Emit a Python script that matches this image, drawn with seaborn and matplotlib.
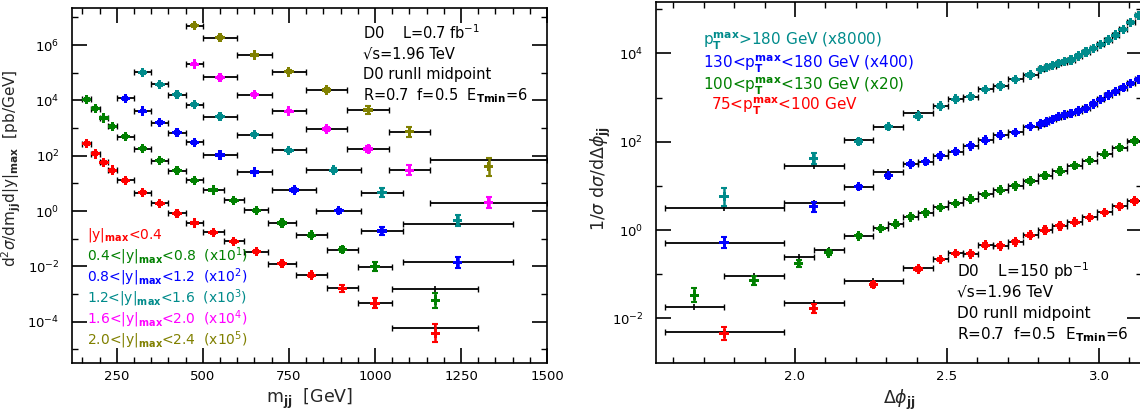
import numpy as np
import pandas as pd
import matplotlib
matplotlib.use("Agg")
import matplotlib.pyplot as plt
import matplotlib.ticker as mticker
import seaborn as sns

# ---------------- left panel: d2sigma/dmjj d|y|max in six |y|max bins ----------------
# bin edges in mjj [GeV], measured points, theory (black bars), error in decades
y04_edges = [150, 175, 200, 225, 250, 300, 350, 400, 450, 500, 560, 620, 690, 770, 860, 950, 1050, 1300]
y04_data = [271, 117, 58, 30, 12.9, 4.6, 1.9, 0.83, 0.37, 0.17, 0.081, 0.034, 0.0126, 0.0048, 0.0016, 4.6e-4, 3.8e-5]
y04_theo = [271, 117, 58, 30, 12.9, 4.6, 1.9, 0.83, 0.37, 0.17, 0.081, 0.034, 0.0126, 0.0048, 0.0016, 4.6e-4, 6.0e-5]
y04_err = [0.05, 0.05, 0.05, 0.05, 0.05, 0.05, 0.05, 0.05, 0.05, 0.05, 0.05, 0.05, 0.06, 0.08, 0.12, 0.18, 0.33]

y08_edges = [150, 175, 200, 225, 250, 300, 350, 400, 450, 500, 560, 620, 690, 770, 860, 950, 1050, 1300]
y08_data = [1090, 499, 230, 115, 48.5, 17.9, 6.6, 2.86, 1.29, 0.575, 0.245, 0.107, 0.037, 0.0135, 0.0040, 9.8e-4, 6.0e-5]
y08_theo = [1090, 499, 230, 115, 48.5, 17.9, 6.6, 2.86, 1.29, 0.575, 0.245, 0.107, 0.037, 0.0135, 0.0040, 9.8e-4, 1.5e-4]
y08_err = [0.05, 0.05, 0.05, 0.05, 0.05, 0.05, 0.05, 0.05, 0.05, 0.05, 0.05, 0.05, 0.06, 0.08, 0.1, 0.15, 0.27]

y12_edges = [250, 300, 350, 400, 450, 500, 600, 700, 830, 960, 1080, 1400]
y12_data = [119, 41, 15.6, 6.8, 3.05, 1.06, 0.257, 0.0575, 0.0102, 0.0019, 1.4e-4]
y12_theo = [119, 41, 15.6, 6.8, 3.05, 1.06, 0.257, 0.0575, 0.0102, 0.0019, 1.4e-4]
y12_err = [0.05, 0.05, 0.05, 0.05, 0.05, 0.05, 0.05, 0.06, 0.08, 0.14, 0.2]

y16_edges = [300, 350, 400, 450, 500, 600, 700, 800, 960, 1080, 1400]
y16_data = [103, 38, 16, 7.0, 2.57, 0.575, 0.158, 0.030, 0.0046, 4.5e-4]
y16_theo = [103, 38, 16, 7.0, 2.57, 0.575, 0.158, 0.030, 0.0046, 3.4e-4]
y16_err = [0.05, 0.05, 0.05, 0.05, 0.05, 0.05, 0.06, 0.08, 0.16, 0.2]

y20_edges = [450, 500, 600, 700, 800, 920, 1040, 1160, 1500]
y20_data = [20.6, 6.8, 1.6, 0.41, 0.092, 0.0174, 0.0030, 2.0e-4]
y20_theo = [20.6, 6.8, 1.6, 0.41, 0.092, 0.0174, 0.0030, 2.0e-4]
y20_err = [0.05, 0.05, 0.05, 0.05, 0.06, 0.1, 0.18, 0.2]

y24_edges = [450, 500, 600, 700, 800, 920, 1040, 1160, 1500]
y24_data = [49.9, 18.4, 4.36, 1.08, 0.237, 0.0448, 0.0074, 4.0e-4]
y24_theo = [49.9, 18.4, 4.36, 1.08, 0.237, 0.0448, 0.0074, 7.0e-4]
y24_err = [0.05, 0.05, 0.05, 0.06, 0.08, 0.15, 0.18, 0.33]

left_scales = [1, 10, 100, 1000, 1e4, 1e5]
left_colors = ["#ff0000", "#008000", "#0000ff", "#008b8b", "#ff00ff", "#808000"]
left_labels = [
    r"|y|$_\mathbf{max}$<0.4",
    r"0.4<|y|$_\mathbf{max}$<0.8  (x10$^1$)",
    r"0.8<|y|$_\mathbf{max}$<1.2  (x10$^2$)",
    r"1.2<|y|$_\mathbf{max}$<1.6  (x10$^3$)",
    r"1.6<|y|$_\mathbf{max}$<2.0  (x10$^4$)",
    r"2.0<|y|$_\mathbf{max}$<2.4  (x10$^5$)",
]

# ---------------- right panel: 1/sigma dsigma/dDphi in four pT bins ----------------
pt75_edges = [1.571, 1.963, 2.160, 2.356, 2.454, 2.503, 2.553, 2.602, 2.651, 2.700, 2.749, 2.798,
              2.847, 2.896, 2.945, 2.994, 3.043, 3.092, 3.142]
pt75_data = [0.0046, 0.0170, 0.059, 0.132, 0.217, 0.296, 0.29, 0.457, 0.44, 0.543, 0.77, 1.0,
             1.25, 1.51, 1.94, 2.51, 3.47, 4.54]
pt75_theo = [0.0050, 0.0226, 0.071, 0.140, 0.217, 0.296, 0.29, 0.457, 0.44, 0.543, 0.77, 1.0,
             1.25, 1.51, 1.94, 2.51, 3.47, 4.54]
pt75_err = [0.15, 0.1, 0.06, 0.04, 0.04, 0.04, 0.04, 0.04, 0.04, 0.04, 0.04, 0.04,
            0.04, 0.04, 0.04, 0.04, 0.04, 0.04]

pt100_edges = [1.571, 1.767, 1.963, 2.062, 2.160, 2.258, 2.307, 2.356, 2.405, 2.454, 2.503, 2.553,
               2.602, 2.651, 2.700, 2.749, 2.798, 2.847, 2.896, 2.945, 2.994, 3.043, 3.092, 3.142]
pt100_data = [1.69e-3, 3.69e-3, 0.0088, 0.0153, 0.0371, 0.0546, 0.0682, 0.0998, 0.123, 0.163, 0.201,
              0.251, 0.323, 0.402, 0.50, 0.644, 0.849, 1.08, 1.43, 1.86, 2.62, 3.65, 5.18]
pt100_theo = [9.2e-4, 4.54e-3, 0.0120, 0.0176, 0.0371, 0.0546, 0.0682, 0.0998, 0.123, 0.163, 0.201,
              0.251, 0.323, 0.402, 0.50, 0.644, 0.849, 1.08, 1.43, 1.86, 2.62, 3.65, 5.18]
pt100_err = [0.15, 0.1, 0.08, 0.06, 0.04, 0.04, 0.04, 0.04, 0.04, 0.04, 0.04, 0.04,
             0.04, 0.04, 0.04, 0.04, 0.04, 0.04, 0.04, 0.04, 0.04, 0.04, 0.04]

pt130_edges = [1.571, 1.963, 2.160, 2.258, 2.356, 2.405, 2.454, 2.503, 2.553, 2.602, 2.651, 2.700,
               2.749, 2.798, 2.818, 2.837, 2.857, 2.876, 2.896, 2.920, 2.945, 2.969, 2.994, 3.018,
               3.043, 3.067, 3.092, 3.117, 3.142]
pt130_data = [1.29e-3, 8.4e-3, 0.0239, 0.0424, 0.078, 0.0879, 0.120, 0.148, 0.202, 0.272, 0.353,
              0.406, 0.547, 0.628, 0.705, 0.802, 0.918, 1.0, 1.10, 1.24, 1.42, 1.78, 2.28, 2.84,
              3.38, 4.16, 5.24, 6.44]
pt130_theo = [1.29e-3, 0.0104, 0.0239, 0.0505, 0.078, 0.0879, 0.120, 0.148, 0.202, 0.272, 0.353,
              0.406, 0.547, 0.628, 0.705, 0.802, 0.918, 1.0, 1.10, 1.24, 1.42, 1.78, 2.28, 2.84,
              3.38, 4.16, 5.24, 6.44]
pt130_err = [0.12, 0.11, 0.05, 0.04, 0.04, 0.04, 0.04, 0.04, 0.04, 0.04, 0.04, 0.04, 0.04, 0.04,
             0.04, 0.04, 0.04, 0.04, 0.04, 0.04, 0.04, 0.04, 0.04, 0.04, 0.04, 0.04, 0.04, 0.04]

pt180_edges = [1.571, 1.963, 2.160, 2.258, 2.356, 2.454, 2.503, 2.553, 2.602, 2.651, 2.700, 2.749,
               2.798, 2.818, 2.837, 2.857, 2.876, 2.896, 2.920, 2.945, 2.969, 2.994, 3.018, 3.043,
               3.067, 3.092, 3.117, 3.142]
pt180_data = [7.1e-4, 5.25e-3, 0.0125, 0.0272, 0.0475, 0.080, 0.115, 0.130, 0.191, 0.228, 0.321,
              0.405, 0.543, 0.598, 0.656, 0.736, 0.807, 0.885, 1.09, 1.34, 1.61, 1.98, 2.49, 3.21,
              4.34, 6.27, 9.06]
pt180_theo = [3.87e-4, 3.56e-3, 0.014, 0.0272, 0.0548, 0.080, 0.115, 0.130, 0.191, 0.228, 0.321,
              0.405, 0.543, 0.598, 0.656, 0.736, 0.807, 0.885, 1.09, 1.34, 1.61, 1.98, 2.49, 3.21,
              4.34, 6.27, 9.06]
pt180_err = [0.2, 0.13, 0.06, 0.05, 0.04, 0.04, 0.04, 0.04, 0.04, 0.04, 0.04, 0.04, 0.04, 0.04,
             0.04, 0.04, 0.04, 0.04, 0.04, 0.04, 0.04, 0.04, 0.04, 0.04, 0.04, 0.04, 0.04]

right_scales = [1, 20, 400, 8000]
right_colors = ["#ff0000", "#008000", "#0000ff", "#008b8b"]
right_labels = [
    r"75<p$_\mathbf{T}^\mathbf{max}$<100 GeV",
    r"100<p$_\mathbf{T}^\mathbf{max}$<130 GeV (x20)",
    r"130<p$_\mathbf{T}^\mathbf{max}$<180 GeV (x400)",
    r"p$_\mathbf{T}^\mathbf{max}$>180 GeV (x8000)",
]

sns.set_theme(style="ticks")
plt.rcParams["font.family"] = ["DejaVu Sans"]
plt.rcParams["mathtext.fontset"] = "dejavusans"
plt.rcParams["axes.linewidth"] = 1.2


def draw_series(ax, edges, theory, data, err, scale, color):
    lo = np.array(edges[:-1], dtype=float)
    hi = np.array(edges[1:], dtype=float)
    xc = (lo + hi) / 2
    th = np.array(theory) * scale
    dv = np.array(data) * scale
    e = np.array(err)
    # theory: black horizontal bars over the bin
    ax.errorbar(xc, th, xerr=[xc - lo, hi - xc], fmt="none", ecolor="black",
                elinewidth=1.3, capsize=2.2, capthick=1.0, zorder=2)
    ax.plot(xc, th, ls="none", marker="|", ms=5, mew=1.2, color="black", zorder=2)
    # data: coloured vertical error bars
    ax.errorbar(xc, dv, yerr=[dv - dv / 10 ** e, dv * 10 ** e - dv], fmt="none",
                ecolor=color, elinewidth=1.8, capsize=2.5, capthick=1.5, zorder=3)
    return pd.DataFrame({"x": xc, "y": dv})


def style_axis(ax):
    ax.tick_params(which="both", direction="in", top=True, right=True, labelsize=9.5,
                   colors="black")
    ax.tick_params(which="major", length=10.5, width=1.2)
    ax.tick_params(which="minor", length=4.5, width=1.0)
    ax.tick_params(axis="y", which="major", pad=9)
    ax.tick_params(axis="x", which="major", pad=5)
    ax.yaxis.set_minor_formatter(mticker.NullFormatter())
    for sp in ax.spines.values():
        sp.set_color("black")


fig = plt.figure(figsize=(11.4, 4.13), dpi=100)
ax1 = fig.add_axes([0.0632, 0.1211, 0.4167, 0.8596])
ax2 = fig.add_axes([0.5752, 0.1218, 0.4266, 0.8734])

# ---- left panel ----
ax1.set_yscale("log")
left_sets = [
    (y04_edges, y04_theo, y04_data, y04_err),
    (y08_edges, y08_theo, y08_data, y08_err),
    (y12_edges, y12_theo, y12_data, y12_err),
    (y16_edges, y16_theo, y16_data, y16_err),
    (y20_edges, y20_theo, y20_data, y20_err),
    (y24_edges, y24_theo, y24_data, y24_err),
]
frames = []
for (ed, th, dv, er), sc, col, lab in zip(left_sets, left_scales, left_colors, left_labels):
    d = draw_series(ax1, ed, th, dv, er, sc, col)
    d["series"] = lab
    frames.append(d)
left_df = pd.concat(frames, ignore_index=True)
sns.scatterplot(data=left_df, x="x", y="y", hue="series", palette=dict(zip(left_labels, left_colors)),
                marker="P", s=46, linewidth=0, legend=False, ax=ax1, zorder=4)

ax1.set_xlim(120, 1500)
ax1.set_ylim(3.2e-6, 2.2e7)
ax1.set_xticks([250, 500, 750, 1000, 1250, 1500])
ax1.set_xticks(np.arange(150, 1500, 50), minor=True)
ax1.set_yticks([1e-4, 1e-2, 1, 1e2, 1e4, 1e6])
ax1.set_yticks([1e-5, 1e-3, 1e-1, 1e1, 1e3, 1e5, 1e7], minor=True)
style_axis(ax1)
ax1.set_xlabel(r"m$_\mathbf{jj}$  [GeV]", fontsize=12.5)
ax1.xaxis.set_label_coords(0.5, -0.068)
ax1.set_ylabel(r"d$^2\sigma$/dm$_\mathbf{jj}$d|y|$_\mathbf{max}$  [pb/GeV]", fontsize=11)
ax1.yaxis.set_label_coords(-0.103, 0.55)

for i, (lab, col) in enumerate(zip(left_labels, left_colors)):
    ax1.text(0.032, 0.361 - i * 0.0594, lab, color=col, fontsize=10,
             transform=ax1.transAxes, va="center", ha="left")

left_info = [r"D0    L=0.7 fb$^{-1}$", "√s=1.96 TeV", "D0 runII midpoint",
             r"R=0.7  f=0.5  E$_\mathbf{Tmin}$=6"]
for i, t in enumerate(left_info):
    ax1.text(0.612, 0.93 - i * 0.059, t, fontsize=10.5, transform=ax1.transAxes,
             va="center", ha="left", color="black")

# ---- right panel ----
ax2.set_yscale("log")
right_sets = [
    (pt75_edges, pt75_theo, pt75_data, pt75_err),
    (pt100_edges, pt100_theo, pt100_data, pt100_err),
    (pt130_edges, pt130_theo, pt130_data, pt130_err),
    (pt180_edges, pt180_theo, pt180_data, pt180_err),
]
frames = []
for (ed, th, dv, er), sc, col, lab in zip(right_sets, right_scales, right_colors, right_labels):
    d = draw_series(ax2, ed, th, dv, er, sc, col)
    d["series"] = lab
    frames.append(d)
right_df = pd.concat(frames, ignore_index=True)
sns.scatterplot(data=right_df, x="x", y="y", hue="series", palette=dict(zip(right_labels, right_colors)),
                marker="P", s=46, linewidth=0, legend=False, ax=ax2, zorder=4)

ax2.set_xlim(1.542, np.pi)
ax2.set_ylim(1e-3, 1.45e5)
ax2.set_xticks([2.0, 2.5, 3.0])
ax2.set_xticklabels(["2.0", "2.5", "3.0"])
ax2.set_xticks(np.arange(1.6, 3.15, 0.1), minor=True)
ax2.set_yticks([1e-2, 1, 1e2, 1e4])
ax2.set_yticks([1e-1, 1e1, 1e3, 1e5], minor=True)
style_axis(ax2)
ax2.set_xlabel(r"$\Delta\phi_\mathbf{jj}$", fontsize=12.5)
ax2.xaxis.set_label_coords(0.5, -0.07)
ax2.set_ylabel(r"1/$\sigma$ d$\sigma$/d$\Delta\phi_\mathbf{jj}$", fontsize=12.5)
ax2.yaxis.set_label_coords(-0.088, 0.51)

right_legend_y = [0.71, 0.767, 0.827, 0.89]
right_legend_x = [0.113, 0.0966, 0.0966, 0.0966]
for lab, col, x, y in zip(right_labels, right_colors, right_legend_x, right_legend_y):
    ax2.text(x, y, lab, color=col, fontsize=11, transform=ax2.transAxes,
             va="center", ha="left")

right_info = [r"D0    L=150 pb$^{-1}$", "√s=1.96 TeV", "D0 runII midpoint",
              r"R=0.7  f=0.5  E$_\mathbf{Tmin}$=6"]
for i, t in enumerate(right_info):
    ax2.text(0.62, 0.255 - i * 0.059, t, fontsize=11, transform=ax2.transAxes,
             va="center", ha="left", color="black")

fig.savefig("out.png", dpi=100)
